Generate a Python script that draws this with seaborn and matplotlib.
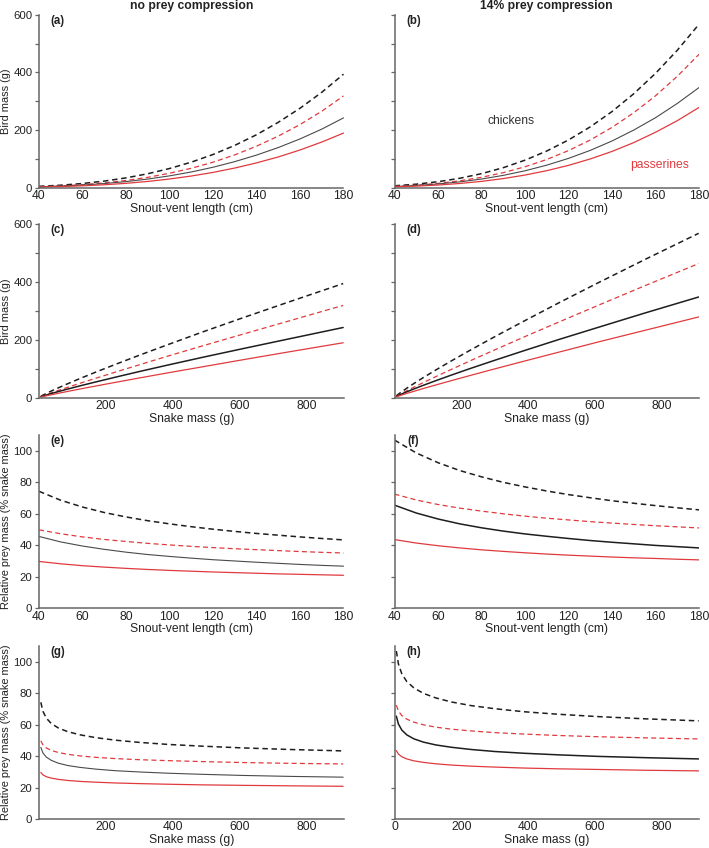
import numpy as np
import seaborn as sns
import matplotlib.pyplot as plt
from matplotlib.ticker import MultipleLocator

# snout-vent length (cm) and matching snake mass (g)
svl = [40, 50, 60, 70, 80, 90, 100, 110, 120, 130, 140, 150, 160, 170, 180]
snake_mass = [5.5, 11.7, 21.7, 36.7, 57.7, 86.2, 123.4, 170.5, 229.2, 300.9,
              387.2, 489.6, 609.7, 749.2, 910]

# bird mass (g), no prey compression
bird_nc_chk_hi = [4.1, 8.0, 13.9, 22.3, 33.4, 47.8, 66.0, 88.1, 114.8, 146.5,
                  183.5, 226.7, 275.6, 331.1, 394.0]
bird_nc_pas_hi = [2.7, 5.5, 9.8, 16.0, 24.4, 35.4, 49.5, 66.8, 88.0, 113.4,
                  143.7, 178.7, 218.9, 265.2, 318.5]
bird_nc_chk_lo = [2.5, 4.9, 8.5, 13.7, 20.5, 29.3, 40.5, 54.0, 70.4, 90.0,
                  112.7, 139.0, 168.9, 203.0, 242.1]
bird_nc_pas_lo = [1.6, 3.3, 5.8, 9.5, 14.5, 21.1, 29.5, 39.9, 52.5, 67.7,
                  85.6, 106.2, 130.5, 158.1, 189.3]

# bird mass (g), 14% prey compression
bird_c_chk_hi = [5.9, 11.5, 20.1, 32.1, 48.1, 68.9, 95.0, 126.9, 165.3, 210.9,
                 264.1, 326.1, 396.9, 477.2, 567.8]
bird_c_pas_hi = [4.0, 8.0, 14.3, 23.3, 35.5, 51.6, 72.1, 97.4, 128.4, 165.2,
                 209.1, 260.0, 318.9, 386.6, 463.2]
bird_c_chk_lo = [3.6, 7.1, 12.3, 19.6, 29.4, 42.2, 58.1, 77.7, 101.3, 129.1,
                 161.8, 199.8, 242.7, 292.2, 347.6]
bird_c_pas_lo = [2.4, 4.8, 8.6, 14.0, 21.3, 31.0, 43.3, 58.5, 77.0, 99.3,
                 125.5, 156.2, 192.1, 232.3, 278.5]

# relative prey mass (% snake mass), no prey compression
rel_nc_chk_hi = [74.2, 68.5, 64.2, 60.7, 57.9, 55.5, 53.5, 51.7, 50.1, 48.7,
                 47.4, 46.3, 45.2, 44.2, 43.3]
rel_nc_pas_hi = [49.7, 47.2, 45.2, 43.6, 42.3, 41.1, 40.1, 39.2, 38.4, 37.7,
                 37.1, 36.5, 35.9, 35.4, 35.0]
rel_nc_chk_lo = [45.5, 42.0, 39.4, 37.3, 35.5, 34.0, 32.8, 31.7, 30.7, 29.9,
                 29.1, 28.4, 27.7, 27.1, 26.6]
rel_nc_pas_lo = [29.6, 28.1, 26.9, 26.0, 25.2, 24.5, 23.9, 23.4, 22.9, 22.5,
                 22.1, 21.7, 21.4, 21.1, 20.8]

# relative prey mass (% snake mass), 14% prey compression
rel_c_chk_hi = [106.8, 98.6, 92.4, 87.4, 83.4, 79.9, 77.0, 74.4, 72.1, 70.1,
                68.2, 66.6, 65.1, 63.7, 62.4]
rel_c_pas_hi = [72.4, 68.7, 65.8, 63.5, 61.6, 59.9, 58.4, 57.1, 56.0, 54.9,
                54.0, 53.1, 52.3, 51.6, 50.9]
rel_c_chk_lo = [65.4, 60.4, 56.6, 53.5, 51.0, 48.9, 47.1, 45.6, 44.2, 42.9,
                41.8, 40.8, 39.8, 39.0, 38.2]
rel_c_pas_lo = [43.5, 41.3, 39.6, 38.2, 37.0, 36.0, 35.1, 34.3, 33.6, 33.0,
                32.4, 31.9, 31.5, 31.0, 30.6]

col_titles = ["no prey compression", "14% prey compression"]
panel_labels = ["(a)", "(b)", "(c)", "(d)", "(e)", "(f)", "(g)", "(h)"]

sns.set_theme(style="white")
plt.rcParams['font.family'] = ['Liberation Sans', 'DejaVu Sans']
plt.rcParams['text.color'] = '#222222'
plt.rcParams['axes.labelcolor'] = '#222222'

RED = '#e03a3e'
BLK = '#1e1e1e'
GRY = '#4a4a4a'
FS = 8.7

fig = plt.figure(figsize=(7.09, 8.48), dpi=100)

W, H = 709, 848
col_x = [39, 394.5]
row_y = [(15, 187.5), (224, 397.5), (435, 608), (646, 819)]
axes = []
for r, (top, bot) in enumerate(row_y):
    for c in range(2):
        ax = fig.add_axes([col_x[c] / W, 1 - bot / H, 304.5 / W, (bot - top) / H])
        axes.append(ax)

sets = {
    0: (bird_nc_chk_hi, bird_nc_pas_hi, bird_nc_chk_lo, bird_nc_pas_lo),
    1: (bird_c_chk_hi, bird_c_pas_hi, bird_c_chk_lo, bird_c_pas_lo),
    2: (rel_nc_chk_hi, rel_nc_pas_hi, rel_nc_chk_lo, rel_nc_pas_lo),
    3: (rel_c_chk_hi, rel_c_pas_hi, rel_c_chk_lo, rel_c_pas_lo),
}
# panels where the black solid curve is drawn thin and grey
thin_grey = {0, 1, 4, 6}

for i, ax in enumerate(axes):
    row, c = divmod(i, 2)
    use_svl = row in (0, 2)
    key = (0 if row < 2 else 2) + c
    chk_hi, pas_hi, chk_lo, pas_lo = sets[key]
    xs = svl if use_svl else snake_mass
    sns.lineplot(x=xs, y=chk_hi, ax=ax, color=BLK, lw=1.1,
                 linestyle=(0, (3.6, 2.4)))
    sns.lineplot(x=xs, y=pas_hi, ax=ax, color=RED, lw=0.9,
                 linestyle=(0, (4, 2.6)))
    if i in thin_grey:
        sns.lineplot(x=xs, y=chk_lo, ax=ax, color=GRY, lw=0.8)
    else:
        sns.lineplot(x=xs, y=chk_lo, ax=ax, color=BLK, lw=1.1)
    sns.lineplot(x=xs, y=pas_lo, ax=ax, color=RED, lw=0.9)

    if use_svl:
        ax.set_xlim(40, 180)
        ax.set_xticks(range(40, 181, 20))
        ax.set_xlabel("Snout-vent length (cm)", fontsize=FS, labelpad=0.5)
    else:
        ax.set_xlim(0, 911)
        ax.set_xticks([0, 200, 400, 600, 800] if i == 7 else [200, 400, 600, 800])
        ax.set_xlabel("Snake mass (g)", fontsize=FS, labelpad=0.5)

    if row < 2:
        ax.set_ylim(0, 600)
        if c == 0:
            ax.set_yticks([0, 200, 400, 600])
            ax.yaxis.set_minor_locator(MultipleLocator(100))
        else:
            ax.set_yticks(range(0, 601, 100))
    else:
        ax.set_ylim(0, 110)
        ax.set_yticks(range(0, 101, 20))

    if c == 0:
        ax.set_ylabel("Bird mass (g)" if row < 2 else "Relative prey mass (% snake mass)",
                      fontsize=7.9)
        ax.yaxis.set_label_coords(-0.0915, 0.5)
    else:
        ax.set_yticklabels([])
        ax.set_ylabel("")

    for s in ['top', 'right']:
        ax.spines[s].set_visible(False)
    for s in ['left', 'bottom']:
        ax.spines[s].set_color('#666666')
        ax.spines[s].set_linewidth(1.1)
    ax.tick_params(axis='y', which='both', left=True, direction='out', length=2.8,
                   width=0.9, color='#666666', labelsize=8.2, pad=2.0)
    ax.tick_params(axis='x', bottom=False, length=0, labelsize=FS, pad=1.8)
    ax.tick_params(colors='#666666', which='both', axis='both', labelcolor='#222222')

    ax.text(0.062, 0.965, panel_labels[i], transform=ax.transAxes, fontsize=8.3,
            fontweight='bold', ha='center', va='center')
    if row == 0:
        ax.set_title(col_titles[c], fontsize=FS, fontweight='bold', pad=4)

axes[1].text(93.8, 230, "chickens", fontsize=FS, color='#333333', ha='center', va='center')
axes[1].text(161.8, 77, "passerines", fontsize=FS, color=RED, ha='center', va='center')

fig.savefig("out.png", dpi=100)
